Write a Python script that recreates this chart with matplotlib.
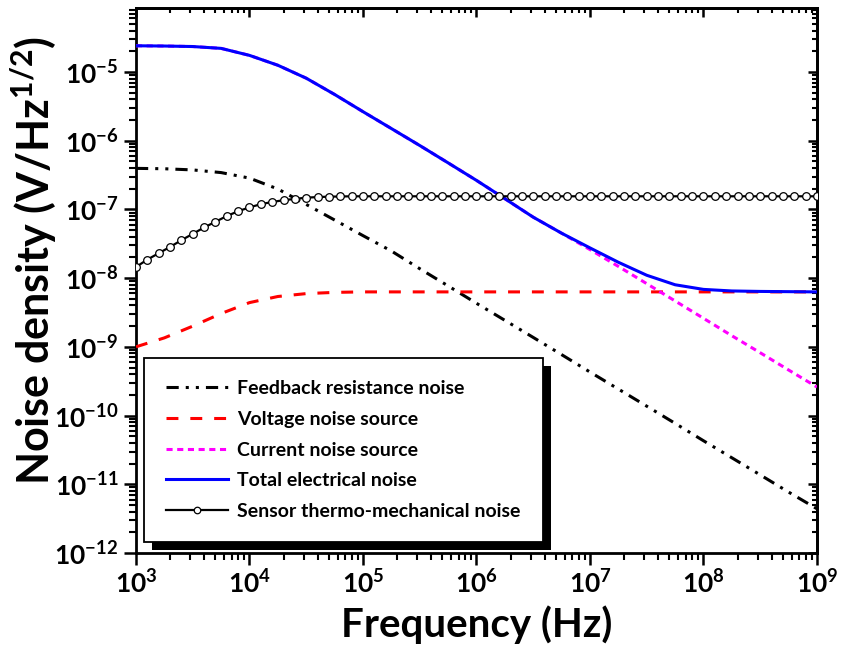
import matplotlib
matplotlib.use('Agg')
import matplotlib.pyplot as plt
from matplotlib.ticker import LogLocator, NullFormatter
from matplotlib.patches import Rectangle

plt.rcParams['font.family'] = ['Lato', 'DejaVu Sans']
plt.rcParams['font.weight'] = 'bold'
plt.rcParams['mathtext.fontset'] = 'custom'
plt.rcParams['mathtext.rm'] = 'Lato:bold'
plt.rcParams['mathtext.it'] = 'Lato:bold:italic'
plt.rcParams['mathtext.bf'] = 'Lato:bold'
plt.rcParams['mathtext.sf'] = 'Lato:bold'
plt.rcParams['axes.unicode_minus'] = False

# ---- data ----
freq = [1e3, 1.778e3, 3.162e3, 5.623e3,
        1e4, 1.778e4, 3.162e4, 5.623e4,
        1e5, 1.778e5, 3.162e5, 5.623e5,
        1e6, 1.778e6, 3.162e6, 5.623e6,
        1e7, 1.778e7, 3.162e7, 5.623e7,
        1e8, 1.778e8, 3.162e8, 5.623e8,
        1e9]

feedback = [3.95e-7, 3.9e-7, 3.75e-7, 3.43e-7,
            2.85e-7, 1.98e-7, 1.18e-7, 7.0e-8,
            4.15e-8, 2.48e-8, 1.37e-8, 7.7e-9,
            4.3e-9, 2.43e-9, 1.37e-9, 7.7e-10,
            4.3e-10, 2.43e-10, 1.37e-10, 7.7e-11,
            4.3e-11, 2.43e-11, 1.37e-11, 7.7e-12,
            4.4e-12]

voltage = [1.0e-9, 1.35e-9, 2.0e-9, 3.05e-9,
           4.4e-9, 5.4e-9, 5.95e-9, 6.2e-9,
           6.3e-9, 6.3e-9, 6.3e-9, 6.3e-9,
           6.3e-9, 6.3e-9, 6.3e-9, 6.3e-9,
           6.3e-9, 6.3e-9, 6.3e-9, 6.3e-9,
           6.3e-9, 6.3e-9, 6.3e-9, 6.3e-9,
           6.3e-9]

current = [2.40e-5, 2.38e-5, 2.34e-5, 2.2e-5,
           1.74e-5, 1.25e-5, 8.1e-6, 4.7e-6,
           2.64e-6, 1.5e-6, 8.5e-7, 4.75e-7,
           2.64e-7, 1.43e-7, 7.7e-8, 4.5e-8,
           2.6e-8, 1.48e-8, 8.3e-9, 4.65e-9,
           2.6e-9, 1.45e-9, 8.2e-10, 4.6e-10,
           2.6e-10]

total = [2.40e-5, 2.38e-5, 2.34e-5, 2.2e-5,
         1.74e-5, 1.25e-5, 8.1e-6, 4.7e-6,
         2.64e-6, 1.5e-6, 8.5e-7, 4.75e-7,
         2.64e-7, 1.43e-7, 7.7e-8, 4.5e-8,
         2.75e-8, 1.7e-8, 1.1e-8, 8.0e-9,
         6.85e-9, 6.5e-9, 6.4e-9, 6.35e-9,
         6.3e-9]

sensor_freq = [1.000e3, 1.259e3, 1.585e3, 1.995e3, 2.512e3, 3.162e3, 3.981e3, 5.012e3, 6.310e3, 7.943e3,
               1.000e4, 1.259e4, 1.585e4, 1.995e4, 2.512e4, 3.162e4, 3.981e4, 5.012e4, 6.310e4, 7.943e4,
               1.000e5, 1.259e5, 1.585e5, 1.995e5, 2.512e5, 3.162e5, 3.981e5, 5.012e5, 6.310e5, 7.943e5,
               1.000e6, 1.259e6, 1.585e6, 1.995e6, 2.512e6, 3.162e6, 3.981e6, 5.012e6, 6.310e6, 7.943e6,
               1.000e7, 1.259e7, 1.585e7, 1.995e7, 2.512e7, 3.162e7, 3.981e7, 5.012e7, 6.310e7, 7.943e7,
               1.000e8, 1.259e8, 1.585e8, 1.995e8, 2.512e8, 3.162e8, 3.981e8, 5.012e8, 6.310e8, 7.943e8,
               1.000e9]
sensor = [1.45e-8, 1.86e-8, 2.3e-8, 2.84e-8, 3.56e-8, 4.4e-8, 5.45e-8, 6.6e-8, 8.0e-8, 9.4e-8,
          1.07e-7, 1.19e-7, 1.28e-7, 1.36e-7, 1.42e-7, 1.48e-7, 1.51e-7, 1.53e-7, 1.54e-7, 1.55e-7,
          1.55e-7, 1.55e-7, 1.55e-7, 1.55e-7, 1.55e-7, 1.55e-7, 1.55e-7, 1.55e-7, 1.55e-7, 1.55e-7,
          1.55e-7, 1.55e-7, 1.55e-7, 1.55e-7, 1.55e-7, 1.55e-7, 1.55e-7, 1.55e-7, 1.55e-7, 1.55e-7,
          1.55e-7, 1.55e-7, 1.55e-7, 1.55e-7, 1.55e-7, 1.55e-7, 1.55e-7, 1.55e-7, 1.55e-7, 1.55e-7,
          1.55e-7, 1.55e-7, 1.55e-7, 1.55e-7, 1.55e-7, 1.55e-7, 1.55e-7, 1.55e-7, 1.55e-7, 1.55e-7,
          1.55e-7]

labels = ['Feedback resistance noise', 'Voltage noise source', 'Current noise source',
          'Total electrical noise', 'Sensor thermo-mechanical noise']

# ---- figure ----
fig = plt.figure(figsize=(8.42, 6.53), dpi=100)
ax = fig.add_axes([0.1615, 0.1531, 0.8088, 0.8346])
ax.set_xscale('log')
ax.set_yscale('log')

lw = 2.2
l1, = ax.plot(freq, feedback, color='black', lw=lw, dashes=(4, 2.3, 1, 2.3, 1, 2.3), label=labels[0], zorder=3)
l2, = ax.plot(freq, voltage, color='#ff0000', lw=lw, dashes=(3.9, 3.9), label=labels[1], zorder=3)
l3, = ax.plot(freq, current, color='#ff00ff', lw=lw, dashes=(2, 1.5), label=labels[2], zorder=3)
l4, = ax.plot(freq, total, color='#0000ff', lw=lw, label=labels[3], zorder=4)
l5, = ax.plot(sensor_freq, sensor, color='black', lw=1.6, marker='o', ms=5.5,
              mfc='white', mec='black', mew=0.9, label=labels[4], zorder=5)

ax.set_xlim(1e3, 1e9)
ax.set_ylim(1e-12, 8.5e-5)

for axis in (ax.xaxis, ax.yaxis):
    axis.set_major_locator(LogLocator(base=10, numticks=100))
    axis.set_minor_locator(LogLocator(base=10, subs=range(2, 10), numticks=100))
    axis.set_minor_formatter(NullFormatter())

for s in ax.spines.values():
    s.set_linewidth(2.0)

ax.tick_params(which='both', direction='out', top=False, right=False, labelsize=19)
ax.tick_params(which='major', length=8.5, width=1.8)
ax.tick_params(which='minor', length=5, width=1.5)
ax.tick_params(axis='x', which='major', pad=3)
ax.tick_params(axis='y', which='major', pad=4)

secx = ax.secondary_xaxis('top')
secx.xaxis.set_major_locator(LogLocator(base=10, numticks=100))
secx.xaxis.set_minor_locator(LogLocator(base=10, subs=range(2, 10), numticks=100))
secx.tick_params(which='both', direction='in', labeltop=False)
secx.tick_params(which='major', length=6.5, width=1.8)
secx.tick_params(which='minor', length=3.6, width=1.5)
secx.spines['top'].set_linewidth(2.0)

secy = ax.secondary_yaxis('right')
secy.yaxis.set_major_locator(LogLocator(base=10, numticks=100))
secy.yaxis.set_minor_locator(LogLocator(base=10, subs=range(2, 10), numticks=100))
secy.tick_params(which='both', direction='in', labelright=False)
secy.tick_params(which='major', length=6.5, width=1.8)
secy.tick_params(which='minor', length=3.6, width=1.5)
secy.spines['right'].set_linewidth(2.0)

ax.set_xlabel('Frequency (Hz)', fontsize=29, fontweight='bold', labelpad=6)
ax.set_ylabel(r'Noise density (V/Hz$^{1/2}$)', fontsize=31, fontweight='bold')
ax.yaxis.set_label_coords(-0.113, 0.536)

leg = ax.legend(handles=[l1, l2, l3, l4, l5], loc='upper left',
                bbox_to_anchor=(0.0117, 0.358), borderaxespad=0,
                fontsize=14, frameon=True, fancybox=False, framealpha=1,
                edgecolor='black', handlelength=3.15, handletextpad=0.5,
                labelspacing=0.7, borderpad=1.15, markerscale=0.85)
leg.get_frame().set_linewidth(1.3)
leg.set_zorder(6)

fig.canvas.draw()
bb = leg.get_window_extent()
inv = ax.transAxes.inverted()
off = 8
(x0, y0) = inv.transform((bb.x0 + off, bb.y0 - off))
(x1, y1) = inv.transform((bb.x1 + off, bb.y1 - off))
shadow = Rectangle((x0, y0), x1 - x0, y1 - y0, transform=ax.transAxes,
                   facecolor='black', edgecolor='none', zorder=5.9, clip_on=False)
ax.add_patch(shadow)

fig.savefig('out.png', dpi=100)
